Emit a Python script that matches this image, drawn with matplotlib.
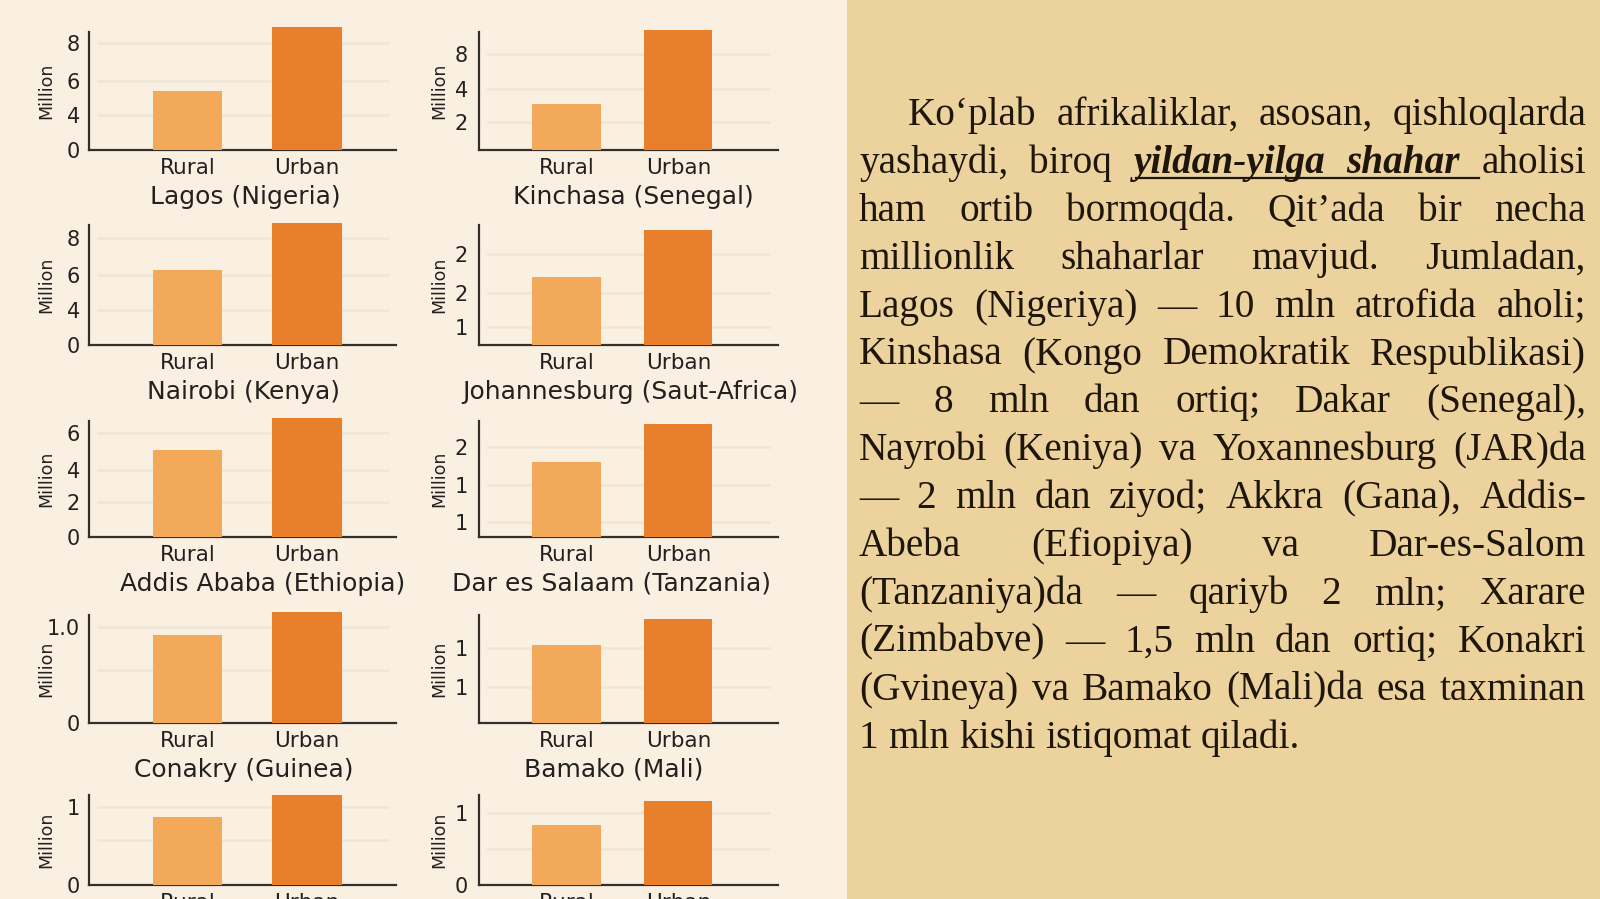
import matplotlib
matplotlib.use("Agg")
import matplotlib.pyplot as plt
from matplotlib.patches import Rectangle
from matplotlib.lines import Line2D

# ---------------- data ----------------
categories = ["Rural", "Urban"]
cities = ["Lagos (Nigeria)", "Kinchasa (Senegal)", "Nairobi (Kenya)",
          "Johannesburg (Saut-Africa)", "Addis Ababa (Ethiopia)",
          "Dar es Salaam (Tanzania)", "Conakry (Guinea)", "Bamako (Mali)", "", ""]
rural = [5.0, 3.87, 6.25, 1.71, 5.25, 1.94, 0.98, 0.87, 0.91, 0.80]
urban = [10.4, 10.17, 10.17, 2.87, 7.18, 2.92, 1.23, 1.16, 1.20, 1.12]
ymax = [10, 10, 10, 3, 7, 3, 1.2, 1.2, 1.2, 1.2]
tick_vals = [[0, 2.97, 5.85, 9.07], [2.35, 5.21, 8.15], [0, 2.92, 5.83, 8.92],
             [0.45, 1.31, 2.27], [0, 2.11, 4.04, 6.28], [0.39, 1.34, 2.33],
             [0, 0.59, 1.067], [0.40, 0.83], [0, 0.60, 1.04], [0, 0.48, 0.96]]
tick_labels = [["0", "4", "6", "8"], ["2", "4", "8"], ["0", "4", "6", "8"],
               ["1", "2", "2"], ["0", "2", "4", "6"], ["1", "1", "2"],
               ["0", "", "1.0"], ["1", "1"], ["0", "", "1"], ["0", "", "1"]]

emph_words = ["yildan-yilga", "shahar"]
text_lines = [
    "Ko‘plab afrikaliklar, asosan, qishloqlarda",
    "yashaydi, biroq yildan-yilga shahar aholisi",
    "ham ortib bormoqda. Qit’ada bir necha",
    "millionlik shaharlar mavjud. Jumladan,",
    "Lagos (Nigeriya) — 10 mln atrofida aholi;",
    "Kinshasa (Kongo Demokratik Respublikasi)",
    "— 8 mln dan ortiq; Dakar (Senegal),",
    "Nayrobi (Keniya) va Yoxannesburg (JAR)da",
    "— 2 mln dan ziyod; Akkra (Gana), Addis-",
    "Abeba (Efiopiya) va Dar-es-Salom",
    "(Tanzaniya)da — qariyb 2 mln; Xarare",
    "(Zimbabve) — 1,5 mln dan ortiq; Konakri",
    "(Gvineya) va Bamako (Mali)da esa taxminan",
    "1 mln kishi istiqomat qiladi.",
]

# ---------------- layout ----------------
W, H = 1600, 899
fig = plt.figure(figsize=(W / 100, H / 100), dpi=100)
fig.patch.set_facecolor("#faf0e2")

def fx(x):
    return x / W

def fy(y):
    return 1 - y / H

# right papyrus panel
fig.patches.append(Rectangle((fx(847), 0), 1 - fx(847), 1, transform=fig.transFigure,
                             facecolor="#ecd39e", edgecolor="none", zorder=0))

col_x = [(89, 396), (479, 778)]
col_xlim = [(-0.82, 1.74), (-0.78, 1.89)]
col_bw = [0.58, 0.61]
col_ylab = [42.5, 40]
col_pad = [6.5, 8]
rows = [(32, 150), (225, 345), (421, 537), (615, 723), (795, 885)]
title_cx = [245, 633, 243, 630, 263, 612, 244, 614, 245, 614]

RURAL_C = "#f2a95a"
URBAN_C = "#e8802b"
AX_C = "#33302c"
TXT_C = "#232120"

for i in range(10):
    r, c = divmod(i, 2)
    l, rgt = col_x[c]
    t, b = rows[r]
    ax = fig.add_axes([fx(l), fy(b), (rgt - l) / W, (b - t) / H])
    ax.set_facecolor("none")
    ax.bar([0, 1], [rural[i], urban[i]], width=col_bw[c],
           color=[RURAL_C, URBAN_C], clip_on=False, zorder=3)
    ax.set_xlim(*col_xlim[c])
    ax.set_ylim(0, ymax[i])
    ax.set_xticks([0, 1])
    ax.set_xticklabels(categories, fontsize=15.5, color=TXT_C)
    ax.set_yticks(tick_vals[i])
    ax.set_yticklabels(tick_labels[i], fontsize=15, color=TXT_C)
    ax.tick_params(axis="x", length=0, pad=5.5)
    ax.tick_params(axis="y", length=0, pad=col_pad[c])
    for v in tick_vals[i]:
        if v > 0:
            ax.axhline(v, xmin=0.03, xmax=0.97, color="#f0e6d7", lw=2, zorder=1)
    for s in ["top", "right"]:
        ax.spines[s].set_visible(False)
    for s in ["left", "bottom"]:
        ax.spines[s].set_color(AX_C)
        ax.spines[s].set_linewidth(1.6)
    ax.text(-col_ylab[c] / (rgt - l), 0.5, "Million", rotation=90, fontsize=12.5,
            color=TXT_C, ha="center", va="center", transform=ax.transAxes)
    if cities[i]:
        fig.text(fx(title_cx[i]), fy(b + 47), cities[i], fontsize=18, color=TXT_C,
                 ha="center", va="center")

# ---------------- justified text ----------------
renderer = fig.canvas.get_renderer()
TEXT_C = "#1f160b"
LEFT, RIGHT, INDENT = 859, 1586, 908
BASE0, LSTEP = 125, 47.9
fsize = 28.3

def make_word(w, emph):
    kw = dict(fontsize=fsize, family="Liberation Serif", color=TEXT_C, va="baseline", ha="left")
    if emph:
        kw.update(fontweight="bold", fontstyle="italic")
    return fig.text(0, 0, w, **kw)

for li, line in enumerate(text_lines):
    words = line.split(" ")
    objs = [make_word(w, w in emph_words) for w in words]
    widths = [o.get_window_extent(renderer).width for o in objs]
    x0 = INDENT if li == 0 else LEFT
    avail = RIGHT - x0
    y = BASE0 + li * LSTEP
    if li == len(text_lines) - 1:
        gap = 9.5
    else:
        gap = max((avail - sum(widths)) / (len(words) - 1), 4)
    x = x0
    xs = []
    for o, w in zip(objs, widths):
        o.set_position((fx(x), fy(y)))
        xs.append(x)
        x += w + gap
    if li == 1:
        k = words.index(emph_words[0])
        k2 = words.index("aholisi")
        fig.add_artist(Line2D([fx(xs[k] + 2), fx(xs[k2] - 2)], [fy(y + 5), fy(y + 5)],
                              transform=fig.transFigure, color=TEXT_C, lw=1.6))

fig.savefig("out.png", dpi=100, facecolor=fig.get_facecolor())
